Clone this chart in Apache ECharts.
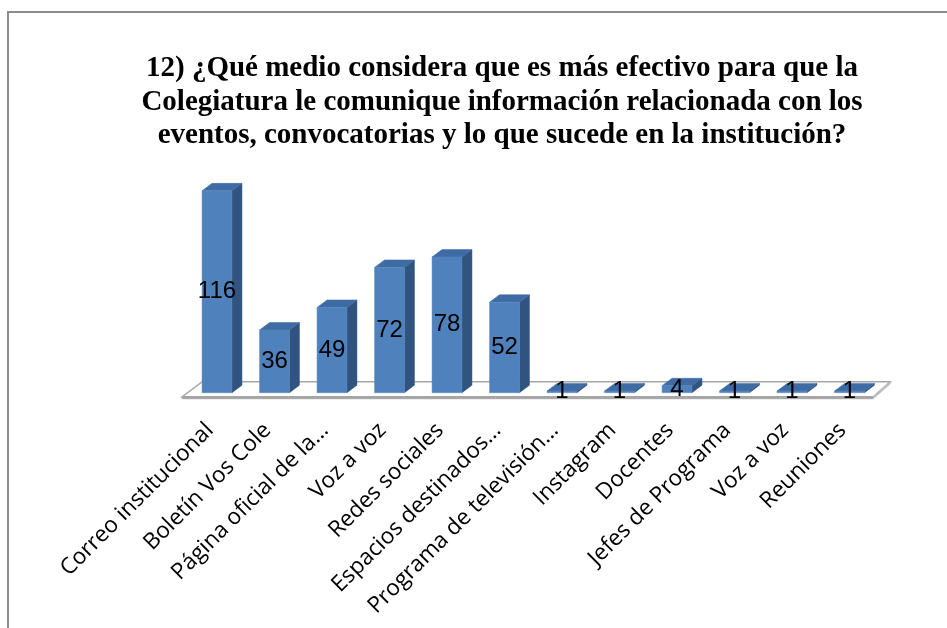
<!DOCTYPE html>
<html>
<head>
<meta charset="utf-8">
<script src="https://cdn.jsdelivr.net/npm/echarts@6/dist/echarts.min.js"></script>
<style>
html,body{margin:0;padding:0;background:#fff;}
#chart{width:947px;height:628px;}
</style>
</head>
<body>
<div id="chart"></div>
<script>
const categories = [
  'Correo institucional',
  'Boletín Vos Cole',
  'Página oficial de la…',
  'Voz a voz',
  'Redes sociales',
  'Espacios destinados…',
  'Programa de televisión…',
  'Instagram',
  'Docentes',
  'Jefes de Programa',
  'Voz a voz',
  'Reuniones'
];
const values = [116, 36, 49, 72, 78, 52, 1, 1, 4, 1, 1, 1];
const titleText = '12) ¿Qué medio considera que es más efectivo para que la\nColegiatura le comunique información relacionada con los\neventos, convocatorias y lo que sucede en la institución?';

const chart = echarts.init(document.getElementById('chart'));

const barData = values.map((v, i) => [i, v]);

const FRONT = '#4F81BD', TOP = '#3E6BA3', SIDE = '#30537F';

function renderBar(params, api) {
  const i = api.value(0), v = api.value(1);
  const base = api.coord([i, 0]);
  const top = api.coord([i, v]);
  const bw = api.size([1, 0])[0] * 0.52;
  const dx = 10, dy = -7.5;
  const l = base[0] - bw / 2, r = base[0] + bw / 2, t = top[1], b = base[1];
  return {
    type: 'group',
    children: [
      { type: 'polygon', shape: { points: [[r, t], [r + dx, t + dy], [r + dx, b + dy], [r, b]] }, style: { fill: SIDE, stroke: SIDE, lineWidth: 0.5 } },
      { type: 'polygon', shape: { points: [[l, t], [r, t], [r + dx, t + dy], [l + dx, t + dy]] }, style: { fill: TOP, stroke: TOP, lineWidth: 0.5 } },
      { type: 'rect', shape: { x: l, y: t, width: bw, height: b - t }, style: { fill: FRONT, stroke: '#5A8AC4', lineWidth: 0.5 } }
    ]
  };
}

function renderFloor(params, api) {
  const band = api.size([1, 0])[0];
  const first = api.coord([0, 0]);
  const last = api.coord([categories.length - 1, 0]);
  const L = first[0] - band / 2, R = last[0] + band / 2, y = first[1];
  const fl = [L - 6, y + 4], fr = [R - 5, y + 4], br = [R + 12, y - 11], bl = [L + 14, y - 11];
  return {
    type: 'group',
    children: [
      { type: 'polygon', shape: { points: [fl, fr, br, bl] }, style: { fill: '#ffffff', stroke: '#A6A6A6', lineWidth: 1.5 } },
      { type: 'polygon', shape: { points: [fl, fr, [fr[0], fr[1] + 2], [fl[0], fl[1] + 2]] }, style: { fill: '#A6A6A6', stroke: '#A6A6A6', lineWidth: 1 } },
      { type: 'polygon', shape: { points: [fr, br, [br[0], br[1] + 2], [fr[0], fr[1] + 2]] }, style: { fill: '#BFBFBF', stroke: '#BFBFBF', lineWidth: 1 } }
    ]
  };
}

chart.setOption({
  animation: false,
  backgroundColor: '#ffffff',
  title: {
    text: titleText,
    left: 497,
    textAlign: 'center',
    top: 47,
    textStyle: {
      fontFamily: 'Liberation Serif',
      fontWeight: 'bold',
      fontSize: 29,
      lineHeight: 33.5,
      color: '#000'
    }
  },
  graphic: [{
    type: 'rect',
    silent: true,
    z: -10,
    shape: { x: 8, y: 12, width: 1000, height: 1000 },
    style: { fill: 'none', stroke: '#8C8C8C', lineWidth: 2 }
  }],
  grid: { left: 188.25, width: 690, top: 183.9, bottom: 235.3, containLabel: false },
  xAxis: {
    type: 'category',
    data: categories,
    axisLine: { show: false },
    axisTick: { show: false },
    axisLabel: {
      interval: 0,
      rotate: 45,
      margin: 27,
      padding: [0, 10, 0, 0],
      fontFamily: 'Open Sans',
      fontSize: 22.5,
      color: '#000'
    }
  },
  yAxis: {
    type: 'value',
    min: 0,
    max: 120,
    show: false,
    splitLine: { show: false }
  },
  series: [
    {
      type: 'custom',
      z: 1,
      renderItem: renderFloor,
      data: [[0, 0]],
      silent: true
    },
    {
      type: 'custom',
      z: 2,
      renderItem: renderBar,
      data: barData,
      encode: { x: 0, y: 1 }
    },
    {
      type: 'bar',
      z: 3,
      barWidth: '52%',
      data: values,
      itemStyle: { color: 'rgba(0,0,0,0)' },
      label: {
        show: true,
        position: 'inside',
        color: '#000',
        fontFamily: 'Liberation Sans',
        fontSize: 24
      }
    }
  ]
});
</script>
</body>
</html>
